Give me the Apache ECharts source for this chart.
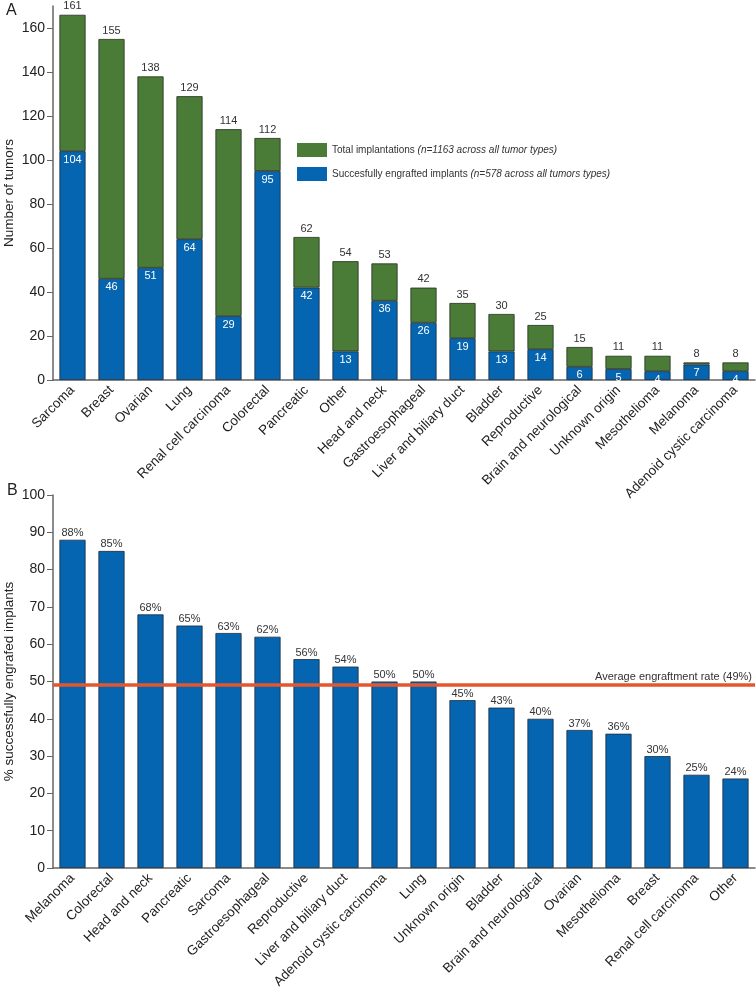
<!DOCTYPE html>
<html>
<head>
<meta charset="utf-8">
<script src="https://cdn.jsdelivr.net/npm/echarts@6/dist/echarts.min.js"></script>
<style>
*{margin:0;padding:0}
#main{width:756px;height:988px}
</style>
</head>
<body>
<div id="main"></div>
<script>
// panel A: tumors implanted / engrafted per type
var catsA = ['Sarcoma','Breast','Ovarian','Lung','Renal cell carcinoma','Colorectal','Pancreatic','Other','Head and neck','Gastroesophageal','Liver and biliary duct','Bladder','Reproductive','Brain and neurological','Unknown origin','Mesothelioma','Melanoma','Adenoid cystic carcinoma'];
var succA = [104,46,51,64,29,95,42,13,36,26,19,13,14,6,5,4,7,4];
// bar heights as drawn (a few differ from the printed totals)
var totalA = [166,155,138,129,114,110,65,54,53,42,35,30,25,15,11,11,8,8];
var totalLabelA = [161,155,138,129,114,112,62,54,53,42,35,30,25,15,11,11,8,8];
var ticksA = [0,20,40,60,80,100,120,140,160];

// panel B: engraftment rate per type
var catsB = ['Melanoma','Colorectal','Head and neck','Pancreatic','Sarcoma','Gastroesophageal','Reproductive','Liver and biliary duct','Adenoid cystic carcinoma','Lung','Unknown origin','Bladder','Brain and neurological','Ovarian','Mesothelioma','Breast','Renal cell carcinoma','Other'];
var pctB = [88,85,68,65,63,62,56,54,50,50,45,43,40,37,36,30,25,24];
var avgB = 49;
var ticksB = [0,10,20,30,40,50,60,70,80,90,100];

var nameTotal = 'Total implantations';
var nameSucc = 'Succesfully engrafted implants';
var notes = {};
notes[nameTotal] = '(n=1163 across all tumor types)';
notes[nameSucc] = '(n=578 across all tumors types)';

var green = '#4a7b37';
var blue = '#0565b0';
var font = 'Liberation Sans, Arial, Helvetica, sans-serif';

var greenA = totalA.map(function (t, i) { return t - succA[i]; });

var myChart = echarts.init(document.getElementById('main'));

function yAxisCommon(idx, max, ticks, name) {
    return {
        gridIndex: idx,
        type: 'value',
        min: 0,
        max: max,
        axisLine: {show: true, lineStyle: {color: '#666', width: 1.5}},
        axisTick: {show: true, length: 6, lineStyle: {color: '#666'}, customValues: ticks},
        axisLabel: {fontSize: 14, color: '#222', margin: 8, fontFamily: font, customValues: ticks},
        splitLine: {show: false},
        name: name,
        nameLocation: 'middle',
        nameGap: 37,
        nameMoveOverlap: false,
        nameTextStyle: {fontSize: 13.5, color: '#222', fontFamily: font}
    };
}

function xAxisCommon(idx, data) {
    return {
        gridIndex: idx,
        type: 'category',
        data: data,
        axisLine: {lineStyle: {color: '#666', width: 1.5}},
        axisTick: {alignWithLabel: true, length: 5, lineStyle: {color: '#666'}},
        axisLabel: {rotate: 45, interval: 0, fontSize: 13.5, color: '#222', margin: 8, fontFamily: font}
    };
}

option = {
    animation: false,
    textStyle: {fontFamily: font},
    title: [
        {text: 'A', left: 1, top: -2, textStyle: {fontSize: 16, fontWeight: 'normal', color: '#222'}},
        {text: 'B', left: 2, top: 478, textStyle: {fontSize: 16, fontWeight: 'normal', color: '#222'}}
    ],
    legend: {
        orient: 'vertical',
        left: 297,
        top: 143,
        padding: 0,
        itemWidth: 30,
        itemHeight: 14,
        itemGap: 10,
        icon: 'rect',
        itemStyle: {borderWidth: 0},
        data: [nameTotal, nameSucc],
        formatter: function (name) {
            return name + ' {i|' + notes[name] + '}';
        },
        textStyle: {
            fontSize: 10, color: '#333',
            rich: {i: {fontStyle: 'italic', fontSize: 10, color: '#333'}}
        }
    },
    grid: [
        {left: 53, right: 1, top: 6, height: 374, outerBoundsMode: 'none'},
        {left: 53, right: 1, top: 495, height: 373, outerBoundsMode: 'none'}
    ],
    xAxis: [xAxisCommon(0, catsA), xAxisCommon(1, catsB)],
    yAxis: [
        yAxisCommon(0, 170, ticksA, 'Number of tumors'),
        yAxisCommon(1, 100, ticksB, '% successfully engrafed implants')
    ],
    series: [
        {
            name: nameSucc,
            type: 'bar',
            xAxisIndex: 0,
            yAxisIndex: 0,
            stack: 'a',
            barCategoryGap: '33%',
            data: succA,
            itemStyle: {color: blue, borderColor: '#1d2d40', borderWidth: 0.8},
            label: {show: true, position: 'insideTop', distance: 3, color: '#fff', fontSize: 11}
        },
        {
            name: nameTotal,
            type: 'bar',
            xAxisIndex: 0,
            yAxisIndex: 0,
            stack: 'a',
            barCategoryGap: '33%',
            data: greenA,
            itemStyle: {color: green, borderColor: '#24301f', borderWidth: 0.8},
            label: {
                show: true, position: 'top', distance: 3, color: '#333', fontSize: 11,
                formatter: function (p) { return totalLabelA[p.dataIndex]; }
            }
        },
        {
            name: 'rate',
            type: 'bar',
            xAxisIndex: 1,
            yAxisIndex: 1,
            barCategoryGap: '33%',
            data: pctB,
            itemStyle: {color: blue, borderColor: '#1d2d40', borderWidth: 0.8},
            label: {show: true, position: 'top', distance: 1, color: '#333', fontSize: 11, formatter: '{c}%'},
            markLine: {
                silent: true,
                symbol: ['none', 'none'],
                lineStyle: {color: '#e4572e', width: 3.5, type: 'solid'},
                label: {
                    position: 'insideEndTop', color: '#333', fontSize: 11, distance: 3,
                    formatter: 'Average engraftment rate (' + avgB + '%)'
                },
                data: [{yAxis: avgB}]
            }
        }
    ]
};

myChart.setOption(option);
</script>
</body>
</html>
